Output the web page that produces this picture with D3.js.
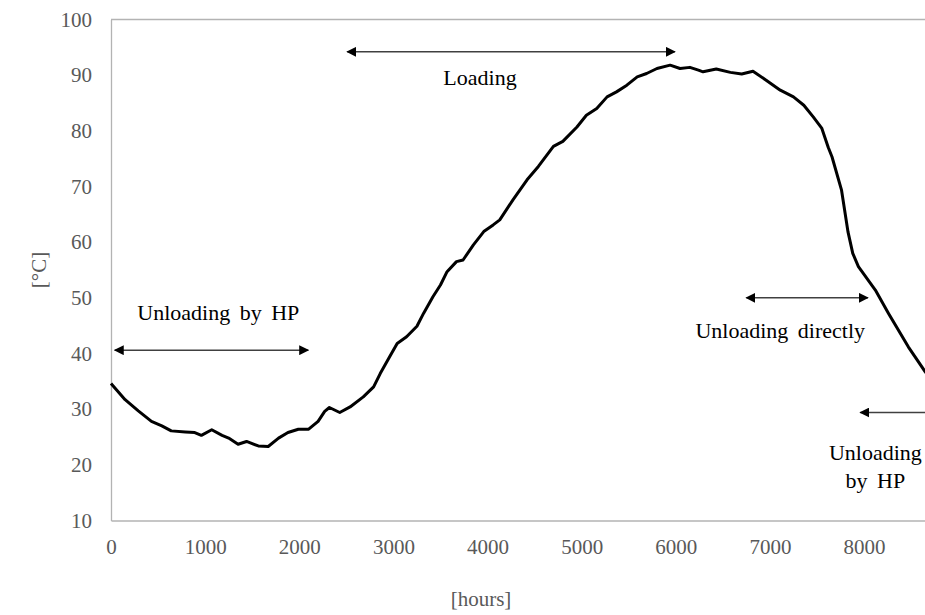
<!DOCTYPE html>
<html>
<head>
<meta charset="utf-8">
<script src="https://cdn.jsdelivr.net/npm/d3@7"></script>
<style>
  body { margin: 0; background: #fff; }
  svg { display: block; font-family: "Liberation Serif", "Times New Roman", serif; }
</style>
</head>
<body>
<div id="chart"></div>
<script>
// Store temperature over one year
var hours = [0, 150, 290, 430, 540, 640, 790, 890, 960, 1070, 1180, 1250, 1350, 1440, 1565, 1670,
  1780, 1880, 1990, 2100, 2200, 2270, 2320, 2430, 2540, 2680, 2790, 2860, 2960, 3040, 3140, 3250,
  3320, 3420, 3500, 3570, 3670, 3740, 3850, 3960, 4060, 4130, 4270, 4420, 4540, 4700, 4800, 4950,
  5050, 5160, 5270, 5370, 5480, 5590, 5690, 5800, 5940, 6045, 6150, 6240, 6290, 6430, 6580, 6700,
  6820, 6960, 7110, 7250, 7360, 7460, 7550, 7620, 7660, 7760, 7830, 7880, 7940, 8120, 8260, 8470,
  8650, 8760];
var temps = [34.6, 31.7, 29.7, 27.8, 27.0, 26.1, 25.9, 25.8, 25.3, 26.3, 25.3, 24.8, 23.7, 24.2, 23.4, 23.3,
  24.8, 25.8, 26.4, 26.4, 27.8, 29.6, 30.3, 29.4, 30.4, 32.2, 34.0, 36.4, 39.4, 41.8, 43.0, 44.9,
  47.2, 50.2, 52.3, 54.7, 56.5, 56.8, 59.5, 61.9, 63.1, 64.0, 67.6, 71.2, 73.6, 77.2, 78.1, 80.7,
  82.8, 84.0, 86.1, 87.0, 88.2, 89.7, 90.3, 91.2, 91.8, 91.2, 91.4, 90.9, 90.6, 91.1, 90.5, 90.2,
  90.7, 89.1, 87.3, 86.1, 84.6, 82.5, 80.5, 77.0, 75.3, 69.4, 61.8, 58.0, 55.6, 51.4, 47.2, 41.2,
  36.7, 34.5];

var xTicks = [0, 1000, 2000, 3000, 4000, 5000, 6000, 7000, 8000];
var yTicks = [10, 20, 30, 40, 50, 60, 70, 80, 90, 100];

// phases: arrow from h1 to h2 at level v, heads at "both" or "start"
var phaseLabels = [["Unloading by HP"], ["Loading"], ["Unloading directly"], ["Unloading", "by HP"]];
var phaseFrom = [40, 2510, 6750, 7960];
var phaseTo = [2095, 5990, 8040, 8760];
var phaseLevel = [40.6, 94.2, 50.0, 29.4];
var phaseHeads = ["both", "both", "both", "start"];
var phaseTextX = [1140, 3920, 7110, 8120];
var phaseTextV = [46.0, 88.2, 42.8, 20.9];

var width = 925, height = 615;

var svg = d3.select("#chart").append("svg")
    .attr("width", width)
    .attr("height", height);

var x = d3.scaleLinear().domain([0, 8760]).range([111, 935.6]);
var y = d3.scaleLinear().domain([10, 100]).range([520.5, 19.5]);

var gray = "#595959", axisColor = "#b3b3b3";

// top border of the plot area
svg.append("line")
    .attr("x1", x(0)).attr("x2", x(8760))
    .attr("y1", y(100)).attr("y2", y(100))
    .attr("stroke", axisColor).attr("stroke-width", 1.3);

var xAxis = svg.append("g")
    .attr("transform", "translate(0," + y(10) + ")")
    .call(d3.axisBottom(x).tickValues(xTicks).tickSize(0).tickPadding(19).tickFormat(d3.format("d")));

var yAxis = svg.append("g")
    .attr("transform", "translate(" + x(0) + ",0)")
    .call(d3.axisLeft(y).tickValues(yTicks).tickSize(0).tickPadding(19));

[xAxis, yAxis].forEach(function(g) {
  g.select(".domain").attr("stroke", axisColor).attr("stroke-width", 1.3);
  g.selectAll("text")
    .attr("fill", gray)
    .style("font-family", '"Liberation Serif", "Times New Roman", serif')
    .style("font-size", "21px");
});

// axis titles
svg.append("text")
    .attr("transform", "translate(46,270) rotate(-90)")
    .attr("text-anchor", "middle")
    .attr("fill", gray)
    .style("font-size", "21px")
    .text("[°C]");

svg.append("text")
    .attr("x", 481).attr("y", 606)
    .attr("text-anchor", "middle")
    .attr("fill", gray)
    .style("font-size", "21px")
    .text("[hours]");

// temperature curve
var line = d3.line()
    .x(function(d) { return x(d[0]); })
    .y(function(d) { return y(d[1]); });

svg.append("path")
    .datum(d3.zip(hours, temps))
    .attr("d", line)
    .attr("fill", "none")
    .attr("stroke", "#000")
    .attr("stroke-width", 3)
    .attr("stroke-linejoin", "round");

// arrow heads
var defs = svg.append("defs");
defs.append("marker")
    .attr("id", "head")
    .attr("viewBox", "0 0 10 10")
    .attr("refX", 9).attr("refY", 5)
    .attr("markerWidth", 10).attr("markerHeight", 10)
    .attr("markerUnits", "userSpaceOnUse")
    .attr("orient", "auto-start-reverse")
    .append("path")
    .attr("d", "M0,0 L10,5 L0,10 Z")
    .attr("fill", "#000");

phaseLabels.forEach(function(lines, i) {
  var a = svg.append("line")
      .attr("x1", x(phaseFrom[i])).attr("x2", x(phaseTo[i]))
      .attr("y1", y(phaseLevel[i])).attr("y2", y(phaseLevel[i]))
      .attr("stroke", "#404040")
      .attr("stroke-width", 1.5)
      .attr("marker-start", "url(#head)");
  if (phaseHeads[i] == "both") a.attr("marker-end", "url(#head)");

  var t = svg.append("text")
      .attr("x", x(phaseTextX[i]))
      .attr("y", y(phaseTextV[i]))
      .attr("text-anchor", "middle")
      .attr("fill", "#000")
      .style("font-size", "22px")
      .style("word-spacing", "4px");
  lines.forEach(function(s, j) {
    t.append("tspan")
      .attr("x", x(phaseTextX[i]))
      .attr("dy", j == 0 ? 0 : 28.5)
      .text(s);
  });
});
</script>
</body>
</html>
